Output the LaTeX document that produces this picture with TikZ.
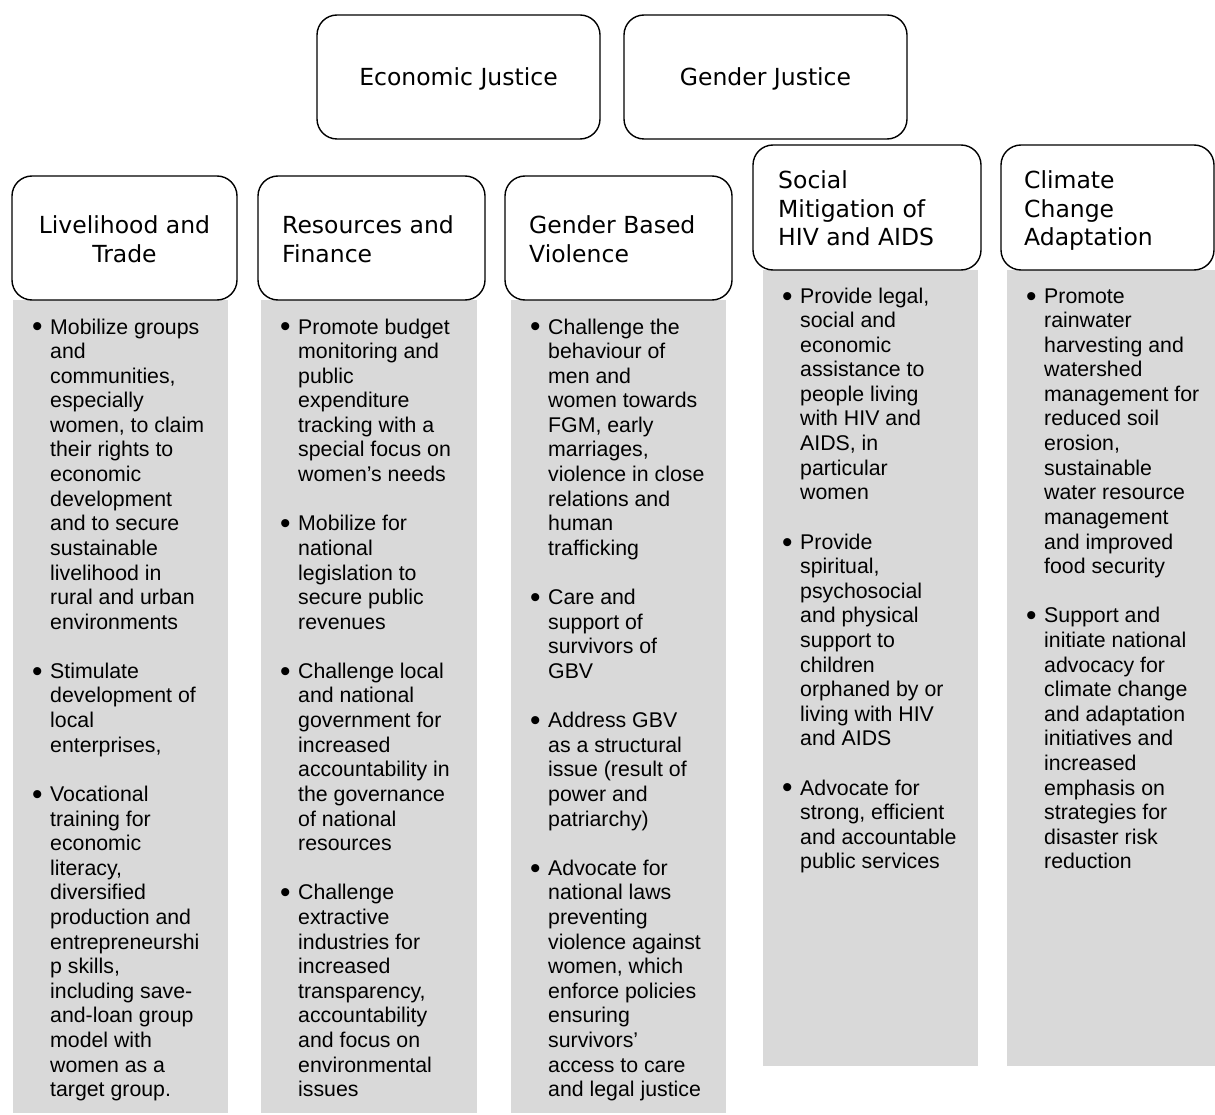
\documentclass[tikz,border=0pt]{standalone}
\usepackage{fontspec}
\setmainfont{Liberation Sans}
\newfontfamily\headfont{DejaVu Sans}
\definecolor{panelgrey}{RGB}{217,217,217}
\newcommand\bulmark{\raisebox{-3pt}{\scalebox{1.4}{\textbullet}}}
\tikzset{
  hbox/.style={draw=black, line width=1.4pt, rounded corners=20pt, fill=white,
    inner sep=0pt, outer sep=0pt, anchor=north west},
  panel/.style={fill=panelgrey, draw=none, inner sep=0pt, outer sep=0pt, anchor=north west},
  headtxt/.style={inner sep=0pt, font=\headfont\fontsize{23.5}{28.5}\selectfont},
  bodytxt/.style={inner sep=0pt, anchor=base west, font=\fontsize{21.3}{24.6}\selectfont}
}
\begin{document}
\begin{tikzpicture}[x=1pt,y=-1pt]
\useasboundingbox (0,0) rectangle (1215,1115);

% grey panels
\node[panel, minimum width=215pt, minimum height=813pt] (p1) at (13,300) {};
\node[panel, minimum width=216pt, minimum height=813pt] (p2) at (261,300) {};
\node[panel, minimum width=215pt, minimum height=813pt] (p3) at (511,300) {};
\node[panel, minimum width=215pt, minimum height=796pt] (p4) at (763,270) {};
\node[panel, minimum width=208pt, minimum height=796pt] (p5) at (1007,270) {};

% header boxes
\node[hbox, minimum width=283pt, minimum height=124pt] (ej) at (317,15) {};
\node[hbox, minimum width=283pt, minimum height=124pt] (gj) at (624,15) {};
\node[hbox, minimum width=225pt, minimum height=124pt] (lt) at (12,176) {};
\node[hbox, minimum width=227pt, minimum height=124pt] (rf) at (258,176) {};
\node[hbox, minimum width=227pt, minimum height=124pt] (gbv) at (505,176) {};
\node[hbox, minimum width=228pt, minimum height=125pt] (sm) at (753,145) {};
\node[hbox, minimum width=213pt, minimum height=125pt] (cc) at (1001,145) {};

% header texts
\node[headtxt, anchor=base] (ejt) at (458.5,86) {Economic Justice};
\node[headtxt, anchor=base] (gjt) at (765.5,86) {Gender Justice};
\node[headtxt, anchor=base] (ltt) at (124.5,234) {\begin{tabular}[t]{@{}c@{}}Livelihood and\\Trade\end{tabular}};
\node[headtxt, anchor=base west] (rft) at (282,234) {\begin{tabular}[t]{@{}l@{}}Resources and\\Finance\end{tabular}};
\node[headtxt, anchor=base west] (gbvt) at (529,234) {\begin{tabular}[t]{@{}l@{}}Gender Based\\Violence\end{tabular}};
\node[headtxt, anchor=base west] (smt) at (778,189) {\begin{tabular}[t]{@{}l@{}}Social\\Mitigation of\\HIV and AIDS\end{tabular}};
\node[headtxt, anchor=base west] (cct) at (1024,189) {\begin{tabular}[t]{@{}l@{}}Climate\\Change\\Adaptation\end{tabular}};

% body texts
\node[bodytxt] (b1) at (32,334) {\begin{tabular}[t]{@{}p{18pt}@{}l@{}}
\bulmark & Mobilize groups\\
& and\\
& communities,\\
& especially\\
& women, to claim\\
& their rights to\\
& economic\\
& development\\
& and to secure\\
& sustainable\\
& livelihood in\\
& rural and urban\\
& environments\\
&\\
\bulmark & Stimulate\\
& development of\\
& local\\
& enterprises,\\
&\\
\bulmark & Vocational\\
& training for\\
& economic\\
& literacy,\\
& diversified\\
& production and\\
& entrepreneurshi\\
& p skills,\\
& including save-\\
& and-loan group\\
& model with\\
& women as a\\
& target group.
\end{tabular}};

\node[bodytxt] (b2) at (280,334) {\begin{tabular}[t]{@{}p{18pt}@{}l@{}}
\bulmark & Promote budget\\
& monitoring and\\
& public\\
& expenditure\\
& tracking with a\\
& special focus on\\
& women’s needs\\
&\\
\bulmark & Mobilize for\\
& national\\
& legislation to\\
& secure public\\
& revenues\\
&\\
\bulmark & Challenge local\\
& and national\\
& government for\\
& increased\\
& accountability in\\
& the governance\\
& of national\\
& resources\\
&\\
\bulmark & Challenge\\
& extractive\\
& industries for\\
& increased\\
& transparency,\\
& accountability\\
& and focus on\\
& environmental\\
& issues
\end{tabular}};

\node[bodytxt] (b3) at (530,334) {\begin{tabular}[t]{@{}p{18pt}@{}l@{}}
\bulmark & Challenge the\\
& behaviour of\\
& men and\\
& women towards\\
& FGM, early\\
& marriages,\\
& violence in close\\
& relations and\\
& human\\
& trafficking\\
&\\
\bulmark & Care and\\
& support of\\
& survivors of\\
& GBV\\
&\\
\bulmark & Address GBV\\
& as a structural\\
& issue (result of\\
& power and\\
& patriarchy)\\
&\\
\bulmark & Advocate for\\
& national laws\\
& preventing\\
& violence against\\
& women, which\\
& enforce policies\\
& ensuring\\
& survivors’\\
& access to care\\
& and legal justice
\end{tabular}};

\node[bodytxt] (b4) at (782,303) {\begin{tabular}[t]{@{}p{18pt}@{}l@{}}
\bulmark & Provide legal,\\
& social and\\
& economic\\
& assistance to\\
& people living\\
& with HIV and\\
& AIDS, in\\
& particular\\
& women\\
&\\
\bulmark & Provide\\
& spiritual,\\
& psychosocial\\
& and physical\\
& support to\\
& children\\
& orphaned by or\\
& living with HIV\\
& and AIDS\\
&\\
\bulmark & Advocate for\\
& strong, efficient\\
& and accountable\\
& public services
\end{tabular}};

\node[bodytxt] (b5) at (1026,303) {\begin{tabular}[t]{@{}p{18pt}@{}l@{}}
\bulmark & Promote\\
& rainwater\\
& harvesting and\\
& watershed\\
& management for\\
& reduced soil\\
& erosion,\\
& sustainable\\
& water resource\\
& management\\
& and improved\\
& food security\\
&\\
\bulmark & Support and\\
& initiate national\\
& advocacy for\\
& climate change\\
& and adaptation\\
& initiatives and\\
& increased\\
& emphasis on\\
& strategies for\\
& disaster risk\\
& reduction
\end{tabular}};
\end{tikzpicture}
\end{document}
